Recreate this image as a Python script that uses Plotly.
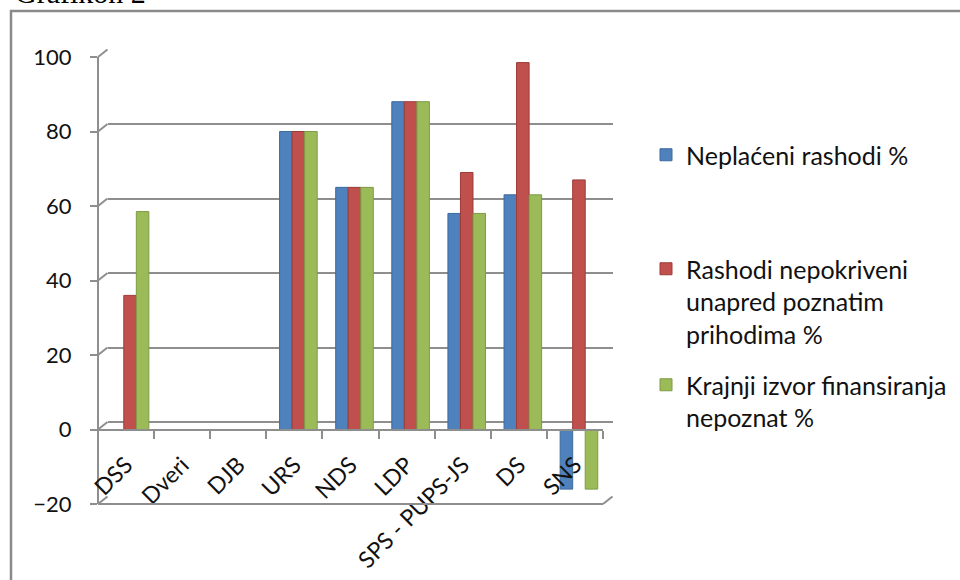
import plotly.graph_objects as go

# ---- data ----
categories = ["DSS", "Dveri", "DJB", "URS", "NDS", "LDP", "SPS - PUPS-JS", "DS", "SNS"]
neplaceni = [0, 0, 0, 80, 65, 88, 58, 63, -16]
nepokriveni = [36, 0, 0, 80, 65, 88, 69, 98.5, 67]
nepoznat = [58.5, 0, 0, 80, 65, 88, 58, 63, -16]
series_names = ["Neplaćeni rashodi %",
                "Rashodi nepokriveni<br>unapred poznatim<br>prihodima %",
                "Krajnji izvor finansiranja<br>nepoznat %"]
series_colors = ["#4F81BD", "#C0504D", "#9BBB59"]
series_lines = ["#3c6a9e", "#9c3b38", "#7e9b45"]
y_ticks = [-20, 0, 20, 40, 60, 80, 100]
y_range = [-20, 100]

W, H = 960, 580
def px(p):
    return p / W
def py(p):
    return 1 - p / H

GRID = "#8e8e8e"
FONT = "Lato"
TXT = "#111111"

# front / back geometry (pixels)
front_top, front_bot = 57, 504
depth_dx, depth_dy = 9.5, 7.5
front_left, front_right = 98, 603

def front_y(v):
    return front_bot - (v - y_range[0]) / (y_range[1] - y_range[0]) * (front_bot - front_top)

fig = go.Figure()

# back wall subplot (gridlines)
fig.add_trace(go.Scatter(x=[0], y=[None], xaxis="x", yaxis="y", showlegend=False, hoverinfo="skip"))
# front floor axis (category ticks / labels)
fig.add_trace(go.Scatter(x=categories, y=[None] * len(categories), xaxis="x3", yaxis="y2",
                         showlegend=False, hoverinfo="skip", mode="markers"))

legends = ["legend", "legend2", "legend3"]
for vals, name, col, lc, lg in zip([neplaceni, nepokriveni, nepoznat], series_names,
                                   series_colors, series_lines, legends):
    fig.add_trace(go.Bar(x=categories, y=vals, name=name, xaxis="x2", yaxis="y2",
                         marker=dict(color=col, line=dict(color=lc, width=1)),
                         legend=lg))

shapes = []
# diagonal connectors on the left side
for v in y_ticks:
    shapes.append(dict(type="line", xref="paper", yref="paper",
                       x0=px(front_left), y0=py(front_y(v)),
                       x1=px(front_left + depth_dx), y1=py(front_y(v) - depth_dy),
                       line=dict(color=GRID, width=2)))
# front floor line at -20
shapes.append(dict(type="line", xref="paper", yref="paper",
                   x0=px(front_left), y0=py(front_y(y_range[0])),
                   x1=px(front_right), y1=py(front_y(y_range[0])),
                   line=dict(color=GRID, width=2)))
shapes.append(dict(type="line", xref="paper", yref="paper",
                   x0=px(front_right), y0=py(front_y(y_range[0])),
                   x1=px(front_right + depth_dx), y1=py(front_y(y_range[0]) - depth_dy),
                   line=dict(color=GRID, width=2)))
# outer frame
shapes.append(dict(type="rect", xref="paper", yref="paper",
                   x0=px(11), y0=py(11), x1=1.1, y1=-0.1,
                   line=dict(color="#8a8a8a", width=2.5)))

y_front_domain = [py(front_bot), py(front_top)]
y_back_domain = [py(front_bot - depth_dy), py(front_top - depth_dy)]
zero_pos = py(front_y(0))

legend_font = dict(family=FONT, size=25, color=TXT)

fig.update_layout(
    width=W, height=H,
    margin=dict(l=0, r=0, t=0, b=0, autoexpand=False),
    paper_bgcolor="white", plot_bgcolor="rgba(0,0,0,0)",
    font=dict(family=FONT, size=22, color=TXT),
    barmode="group", bargap=0.33, bargroupgap=0,
    xaxis=dict(domain=[px(front_left + depth_dx), px(front_right + depth_dx)], range=[0, 1],
               showgrid=False, zeroline=False, showticklabels=False, showline=False, ticks=""),
    yaxis=dict(domain=y_back_domain, range=y_range, dtick=20, tick0=0,
               showgrid=True, gridcolor=GRID, gridwidth=2, zeroline=False,
               showticklabels=False, showline=False, ticks=""),
    xaxis2=dict(domain=[px(102), px(607)], anchor="y2", type="category",
                categoryorder="array", categoryarray=categories,
                showgrid=False, zeroline=False, showticklabels=False, showline=False, ticks=""),
    yaxis2=dict(domain=y_front_domain, range=y_range, tickvals=y_ticks,
                anchor="free", position=px(front_left),
                showgrid=False, zeroline=False, showline=True, linecolor=GRID, linewidth=2,
                ticks="outside", ticklen=7, tickwidth=2, tickcolor=GRID,
                ticklabelstandoff=14, tickfont=dict(family=FONT, size=22, color=TXT)),
    xaxis3=dict(domain=[px(front_left), px(front_right)], anchor="free", position=zero_pos,
                type="category", categoryorder="array", categoryarray=categories,
                range=[-0.5, len(categories) - 0.5],
                tickson="boundaries", ticks="outside", ticklen=8, tickwidth=2, tickcolor=GRID,
                showline=True, linecolor=GRID, linewidth=2, showgrid=False, zeroline=False,
                tickangle=-45, ticklabelstandoff=12,
                tickfont=dict(family=FONT, size=23, color=TXT)),
    shapes=shapes,
    legend=dict(x=px(646), y=py(132), xanchor="left", yanchor="top", valign="top",
                bgcolor="rgba(0,0,0,0)", font=legend_font),
    legend2=dict(x=px(646), y=py(246), xanchor="left", yanchor="top", valign="top",
                 bgcolor="rgba(0,0,0,0)", font=legend_font),
    legend3=dict(x=px(646), y=py(362), xanchor="left", yanchor="top", valign="top",
                 bgcolor="rgba(0,0,0,0)", font=legend_font),
    annotations=[dict(text="Grafikon 2", xref="paper", yref="paper", x=px(13), y=py(10.5),
                      xanchor="left", yanchor="bottom", showarrow=False,
                      font=dict(family="Liberation Serif", size=30, color="#000000"))],
)

fig.write_html("out.html", config={"displayModeBar": False},
               post_script="document.body.style.margin='0';document.body.style.overflow='hidden';")
